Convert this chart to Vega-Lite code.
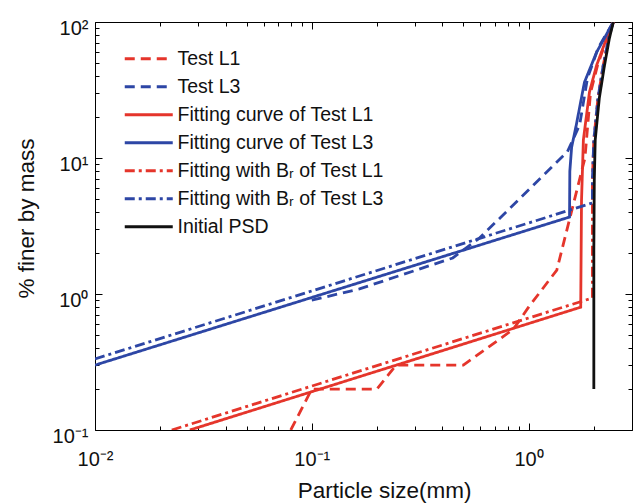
{
  "$schema": "https://vega.github.io/schema/vega-lite/v6.json",
  "width": 537,
  "height": 408,
  "autosize": "none",
  "padding": {"left": 95, "top": 22, "right": 2, "bottom": 73},
  "background": "white",
  "config": {
    "view": {"stroke": "#000", "strokeWidth": 1},
    "font": "Liberation Sans",
    "axis": {
      "grid": false, "domain": false, "tickColor": "#000", "tickWidth": 1,
      "labelColor": "#111", "titleColor": "#111", "labelFont": "Liberation Sans", "labelFontSize": 20,
      "titleFont": "Liberation Sans", "titleFontSize": 22.5, "titleFontWeight": "normal",
      "labelFlush": false, "labelOverlap": false, "labelBound": false
    },
    "legend": {
      "orient": "none", "legendX": 44, "legendY": 27, "padding": 0,
      "symbolType": "M-4,0H4", "symbolSize": 144, "symbolStrokeWidth": 2.8,
      "labelFont": "Liberation Sans", "labelFontSize": 19.5, "labelColor": "#111",
      "labelOffset": 19, "rowPadding": 7, "labelLimit": 400
    }
  },
  "data": {"values": [
    {"s": "Test L1", "x": 0.08, "y": 0.1, "o": 1},
    {"s": "Test L1", "x": 0.1, "y": 0.2, "o": 2},
    {"s": "Test L1", "x": 0.2, "y": 0.2, "o": 3},
    {"s": "Test L1", "x": 0.245, "y": 0.3, "o": 4},
    {"s": "Test L1", "x": 0.5, "y": 0.3, "o": 5},
    {"s": "Test L1", "x": 0.85, "y": 0.55, "o": 6},
    {"s": "Test L1", "x": 1.0, "y": 0.8, "o": 7},
    {"s": "Test L1", "x": 1.35, "y": 1.5, "o": 8},
    {"s": "Test L1", "x": 1.82, "y": 10, "o": 9},
    {"s": "Test L1", "x": 1.93, "y": 30, "o": 10},
    {"s": "Test L1", "x": 2.08, "y": 48, "o": 11},
    {"s": "Test L1", "x": 2.3, "y": 76, "o": 12},
    {"s": "Test L1", "x": 2.46, "y": 100, "o": 13},
    {"s": "Test L3", "x": 0.1, "y": 0.9, "o": 21},
    {"s": "Test L3", "x": 0.166, "y": 1.09, "o": 22},
    {"s": "Test L3", "x": 0.447, "y": 1.84, "o": 23},
    {"s": "Test L3", "x": 0.594, "y": 2.58, "o": 24},
    {"s": "Test L3", "x": 1.51, "y": 11.1, "o": 25},
    {"s": "Test L3", "x": 1.72, "y": 17.5, "o": 26},
    {"s": "Test L3", "x": 1.87, "y": 38.7, "o": 27},
    {"s": "Test L3", "x": 2.1, "y": 65, "o": 28},
    {"s": "Test L3", "x": 2.46, "y": 100, "o": 29},
    {"s": "Fitting curve of Test L1", "x": 0.0274, "y": 0.1, "o": 31},
    {"s": "Fitting curve of Test L1", "x": 1.74, "y": 0.8, "o": 32},
    {"s": "Fitting curve of Test L1", "x": 1.755, "y": 4.9, "o": 33},
    {"s": "Fitting curve of Test L1", "x": 1.79, "y": 13.6, "o": 34},
    {"s": "Fitting curve of Test L1", "x": 1.91, "y": 30.6, "o": 35},
    {"s": "Fitting curve of Test L1", "x": 2.06, "y": 48, "o": 36},
    {"s": "Fitting curve of Test L1", "x": 2.29, "y": 76, "o": 37},
    {"s": "Fitting curve of Test L1", "x": 2.46, "y": 100, "o": 38},
    {"s": "Fitting curve of Test L3", "x": 0.01, "y": 0.3, "o": 41},
    {"s": "Fitting curve of Test L3", "x": 1.545, "y": 3.68, "o": 42},
    {"s": "Fitting curve of Test L3", "x": 1.55, "y": 8, "o": 43},
    {"s": "Fitting curve of Test L3", "x": 1.58, "y": 12, "o": 44},
    {"s": "Fitting curve of Test L3", "x": 1.66, "y": 17.5, "o": 45},
    {"s": "Fitting curve of Test L3", "x": 1.81, "y": 36, "o": 46},
    {"s": "Fitting curve of Test L3", "x": 2.06, "y": 60, "o": 47},
    {"s": "Fitting curve of Test L3", "x": 2.46, "y": 100, "o": 48},
    {"s": "Fitting with Bᵣ of Test L1", "x": 0.0226, "y": 0.1, "o": 51},
    {"s": "Fitting with Bᵣ of Test L1", "x": 1.97, "y": 0.935, "o": 52},
    {"s": "Fitting with Bᵣ of Test L1", "x": 1.97, "y": 7, "o": 53},
    {"s": "Fitting with Bᵣ of Test L1", "x": 2.0, "y": 13.6, "o": 54},
    {"s": "Fitting with Bᵣ of Test L1", "x": 2.09, "y": 27.6, "o": 55},
    {"s": "Fitting with Bᵣ of Test L1", "x": 2.21, "y": 48, "o": 56},
    {"s": "Fitting with Bᵣ of Test L1", "x": 2.34, "y": 76, "o": 57},
    {"s": "Fitting with Bᵣ of Test L1", "x": 2.46, "y": 100, "o": 58},
    {"s": "Fitting with Bᵣ of Test L3", "x": 0.01, "y": 0.333, "o": 61},
    {"s": "Fitting with Bᵣ of Test L3", "x": 1.97, "y": 4.67, "o": 62},
    {"s": "Fitting with Bᵣ of Test L3", "x": 1.97, "y": 7, "o": 63},
    {"s": "Fitting with Bᵣ of Test L3", "x": 2.0, "y": 13.6, "o": 64},
    {"s": "Fitting with Bᵣ of Test L3", "x": 2.09, "y": 27.6, "o": 65},
    {"s": "Fitting with Bᵣ of Test L3", "x": 2.21, "y": 48, "o": 66},
    {"s": "Fitting with Bᵣ of Test L3", "x": 2.34, "y": 76, "o": 67},
    {"s": "Fitting with Bᵣ of Test L3", "x": 2.46, "y": 100, "o": 68},
    {"s": "Initial PSD", "x": 2.0, "y": 0.2, "o": 71},
    {"s": "Initial PSD", "x": 2.0, "y": 2.1, "o": 72},
    {"s": "Initial PSD", "x": 2.01, "y": 6.9, "o": 73},
    {"s": "Initial PSD", "x": 2.03, "y": 13.6, "o": 74},
    {"s": "Initial PSD", "x": 2.12, "y": 27.6, "o": 75},
    {"s": "Initial PSD", "x": 2.24, "y": 48, "o": 76},
    {"s": "Initial PSD", "x": 2.36, "y": 76, "o": 77},
    {"s": "Initial PSD", "x": 2.46, "y": 100, "o": 78}
  ]},
  "layer": [
    {
      "mark": {"type": "line", "strokeWidth": 2.8, "clip": true},
      "encoding": {
        "x": {
          "field": "x", "type": "quantitative",
          "scale": {"type": "log", "domain": [0.01, 3], "nice": false},
          "axis": {
            "orient": "bottom",
            "values": [0.01, 0.02, 0.03, 0.04, 0.05, 0.06, 0.07, 0.08, 0.09, 0.1, 0.2, 0.3, 0.4, 0.5, 0.6, 0.7, 0.8, 0.9, 1, 2, 3],
            "labelExpr": "datum.value == 0.01 ? '10⁻²' : datum.value == 0.1 ? '10⁻¹' : datum.value == 1 ? '10⁰' : ''",
            "tickSize": {"condition": {"test": "indexof([0.01, 0.1, 1], datum.value) >= 0", "value": -7}, "value": -4},
            "labelPadding": 42, "labelBaseline": "alphabetic",
            "title": "Particle size(mm)", "titleX": 289, "titleY": 67,
            "titleBaseline": "alphabetic", "titleAlign": "center"
          }
        },
        "y": {
          "field": "y", "type": "quantitative",
          "scale": {"type": "log", "domain": [0.1, 100], "nice": false},
          "axis": {
            "orient": "left",
            "values": [0.1, 0.2, 0.3, 0.4, 0.5, 0.6, 0.7, 0.8, 0.9, 1, 2, 3, 4, 5, 6, 7, 8, 9, 10, 20, 30, 40, 50, 60, 70, 80, 90, 100],
            "labelExpr": "datum.value == 0.1 ? '10⁻¹' : datum.value == 1 ? '10⁰' : datum.value == 10 ? '10¹' : datum.value == 100 ? '10²' : ''",
            "tickSize": {"condition": {"test": "indexof([0.1, 1, 10, 100], datum.value) >= 0", "value": -7}, "value": -4},
            "labelPadding": 14, "labelBaseline": "alphabetic", "labelOffset": 12,
            "title": "% finer by mass", "titleX": -62, "titleY": 196, "titleAngle": -90,
            "titleBaseline": "alphabetic", "titleAlign": "center"
          }
        },
        "color": {
          "field": "s", "type": "nominal",
          "scale": {
            "domain": ["Test L1", "Test L3", "Fitting curve of Test L1", "Fitting curve of Test L3", "Fitting with Bᵣ of Test L1", "Fitting with Bᵣ of Test L3", "Initial PSD"],
            "range": ["#e5352b", "#2d46a5", "#e5352b", "#2d46a5", "#e5352b", "#2d46a5", "#111111"]
          },
          "legend": {"title": null}
        },
        "strokeDash": {
          "field": "s", "type": "nominal",
          "scale": {
            "domain": ["Test L1", "Test L3", "Fitting curve of Test L1", "Fitting curve of Test L3", "Fitting with Bᵣ of Test L1", "Fitting with Bᵣ of Test L3", "Initial PSD"],
            "range": [[10, 6], [10, 6], [1, 0], [1, 0], [10, 4, 3, 4], [10, 4, 3, 4], [1, 0]]
          },
          "legend": {"title": null}
        },
        "order": {"field": "o", "type": "quantitative"}
      }
    },
    {
      "mark": {"type": "point", "opacity": 0},
      "encoding": {
        "x": {
          "field": "x", "type": "quantitative",
          "scale": {"type": "log", "domain": [0.01, 3], "nice": false},
          "axis": {
            "orient": "top", "labels": false, "title": null,
            "values": [0.01, 0.02, 0.03, 0.04, 0.05, 0.06, 0.07, 0.08, 0.09, 0.1, 0.2, 0.3, 0.4, 0.5, 0.6, 0.7, 0.8, 0.9, 1, 2, 3],
            "tickSize": {"condition": {"test": "indexof([0.01, 0.1, 1], datum.value) >= 0", "value": -7}, "value": -4}
          }
        },
        "y": {
          "field": "y", "type": "quantitative",
          "scale": {"type": "log", "domain": [0.1, 100], "nice": false},
          "axis": {
            "orient": "right", "labels": false, "title": null,
            "values": [0.1, 0.2, 0.3, 0.4, 0.5, 0.6, 0.7, 0.8, 0.9, 1, 2, 3, 4, 5, 6, 7, 8, 9, 10, 20, 30, 40, 50, 60, 70, 80, 90, 100],
            "tickSize": {"condition": {"test": "indexof([0.1, 1, 10, 100], datum.value) >= 0", "value": -7}, "value": -4}
          }
        }
      }
    }
  ],
  "resolve": {"axis": {"x": "independent", "y": "independent"}}
}
